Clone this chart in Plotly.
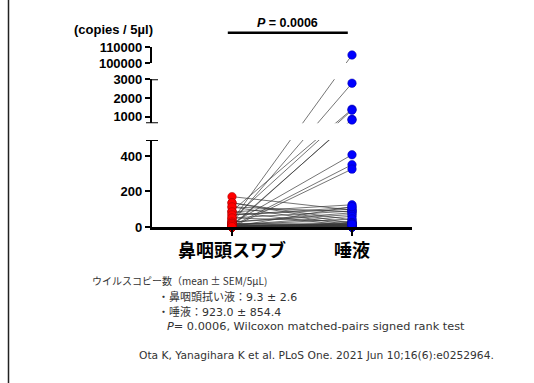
import plotly.graph_objects as go

# ---------------- data ----------------
categories = ["鼻咽頭スワブ", "唾液"]
swab = [36, 25, 90, 2, 45, 8, 20, 5, 0, 171, 136, 113, 85, 68, 51, 28, 11,
        136, 113, 85, 68, 51, 28, 20, 11, 11, 8, 5, 2, 2, 0, 0, 0, 0, 0, 0,
        0, 0, 0, 0, 0, 0, 0, 0, 0, 20, 5, 0, 11, 2]
saliva = [105000, 2790, 1400, 860, 1350, 820, 407, 351, 326, 95, 40, 85, 125,
          110, 30, 80, 15, 20, 10, 5, 100, 90, 70, 2, 60, 45, 12, 20, 8, 115,
          5, 0, 3, 10, 1, 18, 0, 25, 6, 2, 0, 4, 0, 12, 0, 22, 14, 9, 3, 16]
seg_ranges = [[0, 490], [647, 3000], [100000, 110000]]
seg_ticks = [[0, 200, 400], [1000, 2000, 3000], [100000, 110000]]

W, H = 534, 383
# ---------------- layout geometry (pixels) ----------------
seg_px = [(227.0, 140.0), (123.3, 79.3), (63.0, 47.0)]  # (bottom px, top px)
x_px = (152, 412)
cat_px = (232, 352)

def py(p):
    return 1 - p / H

def px(p):
    return p / W

domains = [[py(b), py(t)] for b, t in seg_px]
unit = (cat_px[1] - cat_px[0])
xr = [-(cat_px[0] - x_px[0]) / unit, 1 + (x_px[1] - cat_px[1]) / unit]

def seg_of(v):
    for k, (r0, r1) in enumerate(seg_ranges):
        if v <= r1 or k == len(seg_ranges) - 1:
            if v >= r0 or k == 0:
                return k
    return 0

def to_paper(v):
    k = seg_of(v)
    r0, r1 = seg_ranges[k]
    d0, d1 = domains[k]
    return d0 + (v - r0) / (r1 - r0) * (d1 - d0)

def from_paper(p, k):
    r0, r1 = seg_ranges[k]
    d0, d1 = domains[k]
    return r0 + (p - d0) / (d1 - d0) * (r1 - r0)

fig = go.Figure()
names = ["", "2", "3"]

# connecting lines in each segment (straight in pixel space)
for k in range(3):
    xs, ys = [], []
    for a, b in zip(swab, saliva):
        xs += [0, 1, None]
        ys += [from_paper(to_paper(a), k), from_paper(to_paper(b), k), None]
    fig.add_trace(go.Scatter(x=xs, y=ys, mode="lines",
                             line=dict(color="#3a3a3a", width=0.7),
                             xaxis="x" + names[k], yaxis="y" + names[k],
                             hoverinfo="skip", showlegend=False))

# markers
for k in range(3):
    r0, r1 = seg_ranges[k]
    for xi, vals, col, edge in ((0, swab, "#ff0000", "#a00000"),
                                (1, saliva, "#0000ff", "#0000a0")):
        vv = [v for v in vals if r0 <= v <= r1]
        if not vv:
            continue
        fig.add_trace(go.Scatter(x=[xi] * len(vv), y=vv, mode="markers",
                                 marker=dict(color=col, size=8.5,
                                             line=dict(width=0.5, color=edge)),
                                 cliponaxis=False,
                                 xaxis="x" + names[k], yaxis="y" + names[k],
                                 showlegend=False))

tickfont = dict(family="Liberation Sans, Arial", size=13, color="black", weight="bold")
lay = dict(width=W, height=H, margin=dict(l=0, r=0, t=0, b=0, autoexpand=False),
           paper_bgcolor="white", plot_bgcolor="white", showlegend=False)
for k in range(3):
    n = names[k]
    lay["xaxis" + n] = dict(domain=[px(x_px[0]), px(x_px[1])], range=xr,
                            anchor="y" + n, showgrid=False, zeroline=False,
                            visible=(k == 0),
                            showline=(k == 0), linecolor="black", linewidth=2.5,
                            tickvals=[0, 1], ticktext=categories,
                            ticks="outside", ticklen=6, tickwidth=2, tickcolor="black",
                            tickfont=dict(family="Noto Sans CJK JP", size=18,
                                          color="black", weight="bold"),
                            **({} if k == 0 else {"matches": "x"}))
    lay["yaxis" + n] = dict(domain=domains[k], range=seg_ranges[k],
                            anchor="x" + n, showgrid=False, zeroline=False,
                            showline=True, linecolor="black", linewidth=2.2,
                            tickvals=seg_ticks[k], tickformat="d",
                            ticks="outside", ticklen=5, tickwidth=2, tickcolor="black",
                            tickfont=tickfont, ticklabelstandoff=0)
fig.update_layout(**lay)

# segment end caps
cap = 6 / (x_px[1] - x_px[0])
caps = [(0, seg_ranges[0][1], -cap), (1, seg_ranges[1][0], -cap),
        (1, seg_ranges[1][1], 0)]
for k, v, left in caps:
    n = names[k]
    fig.add_shape(type="line", xref="x" + n + " domain", yref="y" + n,
                  x0=left, x1=cap, y0=v, y1=v, line=dict(color="black", width=2))

# significance bar
fig.add_shape(type="line", xref="x", yref="paper", x0=-0.035, x1=0.965,
              y0=py(32.7), y1=py(32.7), line=dict(color="black", width=2.5))
fig.add_annotation(x=0.465, xref="x", y=py(23), yref="paper",
                   xanchor="center", yanchor="middle",
                   text="<i>P</i> = 0.0006", showarrow=False,
                   font=dict(family="Liberation Sans, Arial", size=12.5,
                             color="black", weight="bold"))
fig.add_annotation(x=px(113), y=py(30), xref="paper", yref="paper",
                   xanchor="center", yanchor="middle",
                   text="(copies / 5µl)", showarrow=False,
                   font=dict(family="Liberation Sans, Arial", size=13,
                             color="black", weight="bold"))

# left slide border
fig.add_shape(type="line", xref="paper", yref="paper", x0=px(8.5), x1=px(8.5),
              y0=0, y1=1, line=dict(color="#222", width=1.5))

notes = [
    (90, 280, "ウイルスコピー数（mean ± SEM/5μL)", 10, "Noto Sans CJK JP"),
    (156, 297, "・鼻咽頭拭い液：9.3 ± 2.6", 11, "DejaVu Sans, Noto Sans CJK JP"),
    (156, 312, "・唾液：923.0 ± 854.4", 11, "DejaVu Sans, Noto Sans CJK JP"),
    (165, 326, "<i>P</i>= 0.0006, Wilcoxon matched-pairs signed rank test", 11.3,
     "DejaVu Sans, Noto Sans CJK JP"),
    (137, 355, "Ota K, Yanagihara K et al. PLoS One. 2021 Jun 10;16(6):e0252964.", 10.7,
     "DejaVu Sans, Noto Sans CJK JP"),
]
for x0, y0, t, s, fam in notes:
    fig.add_annotation(x=px(x0), y=py(y0), xref="paper", yref="paper",
                       xanchor="left", yanchor="middle", text=t, showarrow=False,
                       font=dict(family=fam, size=s, color="#333"))

fig.write_html("out.html", config={"displayModeBar": False},
               post_script="document.body.style.margin='0';document.body.style.overflow='hidden';")
